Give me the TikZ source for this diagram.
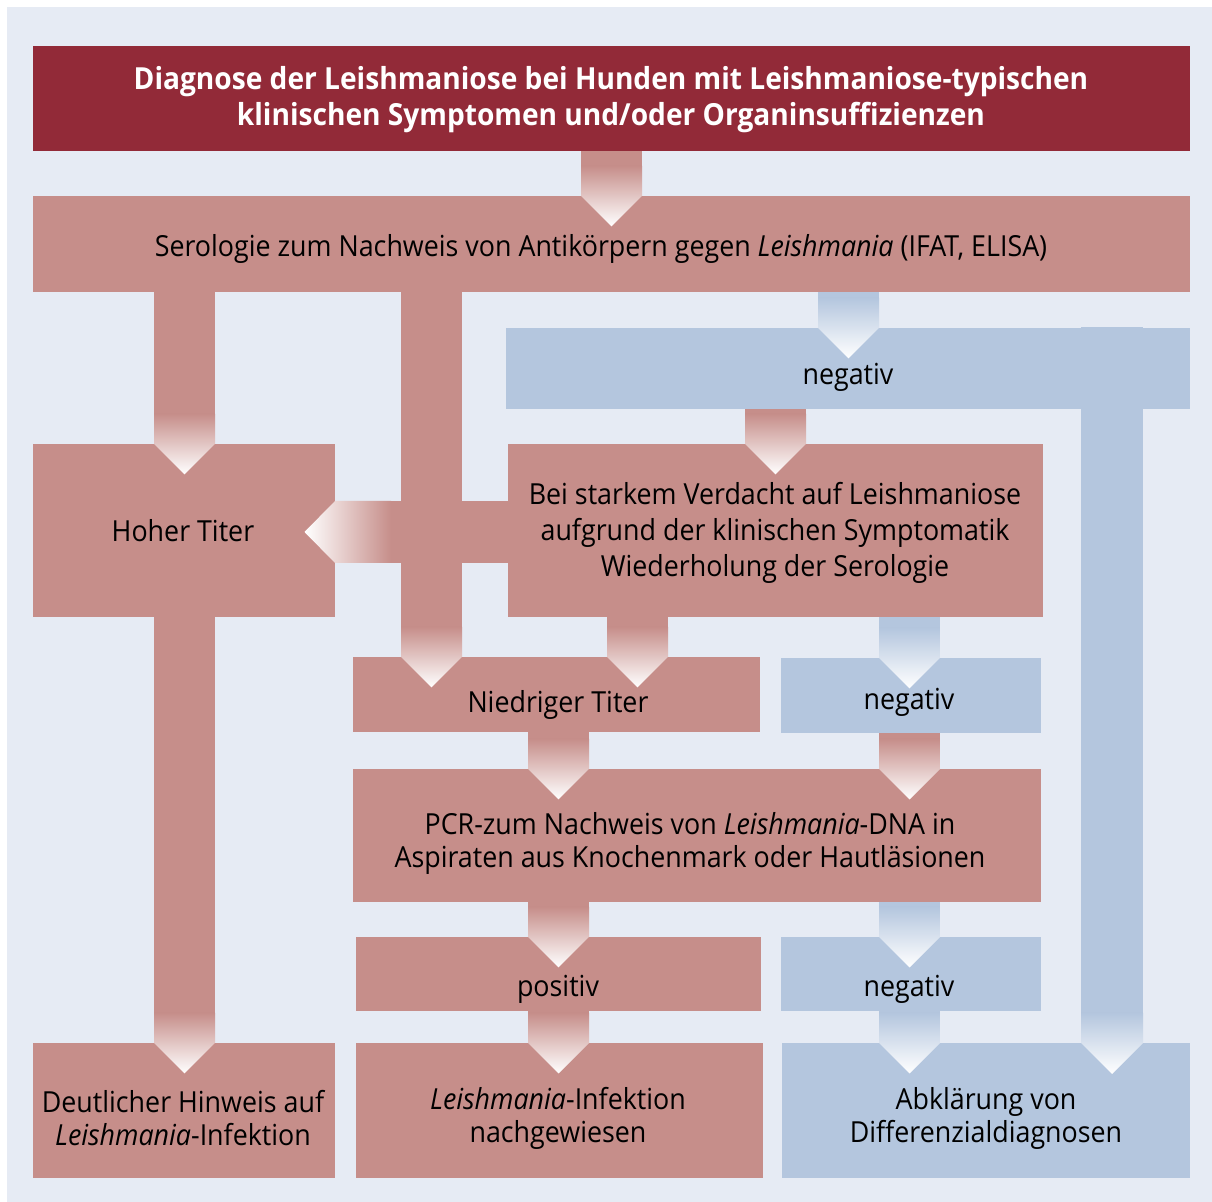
\documentclass[tikz,border=0pt]{standalone}
\usepackage{fontspec}
\setmainfont{Open Sans}[FakeStretch=0.925]
\usetikzlibrary{calc}
\definecolor{panelbg}{RGB}{230,235,244}
\definecolor{darkred}{RGB}{146,42,56}
\definecolor{rosa}{RGB}{198,142,138}
\definecolor{hellblau}{RGB}{180,198,222}
\tikzset{
    box/.style={inner sep=0pt, outer sep=0pt},
    titlebox/.style={box, fill=darkred},
    rosabox/.style={box, fill=rosa},
    blaubox/.style={box, fill=hellblau},
    txt/.style={align=center, inner sep=0pt, font=\fontsize{14.5}{16.5}\selectfont},
    widetxt/.style={txt, font=\fontsize{14.5}{18}\selectfont},
    titletxt/.style={txt, text=white, font=\fontsize{15.2}{18}\selectfont\bfseries}
}
% box from corners in pixels: name, style, x1, y1, x2, y2
\newcommand\flowbox[6]{%
  \node[#2, minimum width={(#5-#3)*0.5pt}, minimum height={(#6-#4)*0.5pt}] (#1) at ({(#3+#5)/2},{(#4+#6)/2}) {};}
% downward arrow: colour, x, from, to
\newcommand\downflow[4]{%
  \fill[#1] let \p1=(#2,0 |- #3.south), \p2=(#2,0 |- #4.north) in
    (\x1-15.25pt,\y1) rectangle (\x1+15.25pt,\y2+15pt);
  \shade[top color=#1, bottom color=white] let \p1=(#2,0 |- #3.south), \p2=(#2,0 |- #4.north) in
    (\x1-15.25pt,\y2+15pt) -- (\x1+15.25pt,\y2+15pt) -- (\x1+15.25pt,\y2)
    -- (\x1,\y2-15.25pt) -- (\x1-15.25pt,\y2) -- cycle;}
% leftward arrow: colour, y, from, to
\newcommand\leftflow[4]{%
  \fill[#1] let \p1=(#3.west |- 0,#2), \p2=(#4.east |- 0,#2) in
    (\x1,\y1-15.5pt) rectangle (\x2+28pt,\y1+15.5pt);
  \shade[left color=white, right color=#1] let \p1=(#3.west |- 0,#2), \p2=(#4.east |- 0,#2) in
    (\x2+28pt,\y1+15.5pt) -- (\x2,\y1+15.5pt) -- (\x2-15.25pt,\y1)
    -- (\x2,\y1-15.5pt) -- (\x2+28pt,\y1-15.5pt) -- cycle;}
\begin{document}
\begin{tikzpicture}[x=0.5pt,y=-0.5pt]
\useasboundingbox (0,0) rectangle (1212,1202);
\fill[panelbg] (7,7) rectangle (1212,1202);

% boxes
\flowbox{title}{titlebox}{33}{46}{1190}{151}
\flowbox{sero}{rosabox}{33}{196}{1190}{292}
\flowbox{neg1}{blaubox}{506}{328}{1190}{409}
\flowbox{hoher}{rosabox}{33}{444}{335}{617}
\flowbox{bei}{rosabox}{508}{444}{1043}{617}
\flowbox{niedrig}{rosabox}{353}{657}{760}{732}
\flowbox{neg2}{blaubox}{781}{658}{1041}{733}
\flowbox{pcr}{rosabox}{353}{769}{1041}{902}
\flowbox{pos}{rosabox}{356}{937}{761}{1011}
\flowbox{neg3}{blaubox}{781}{937}{1041}{1011}
\flowbox{deut}{rosabox}{33}{1043}{335}{1178}
\flowbox{nachw}{rosabox}{356}{1043}{763}{1178}
\flowbox{abkl}{blaubox}{782}{1043}{1190}{1178}

% arrows
\downflow{rosa}{611.5}{title}{sero}
\downflow{rosa}{184.5}{sero}{hoher}
\leftflow{rosa}{532}{bei}{hoher}
\downflow{rosa}{431.5}{sero}{niedrig}
\downflow{hellblau}{848.5}{sero}{neg1}
\downflow{rosa}{775.5}{neg1}{bei}
\downflow{rosa}{637.5}{bei}{niedrig}
\downflow{hellblau}{909.5}{bei}{neg2}
\downflow{rosa}{558.5}{niedrig}{pcr}
\downflow{rosa}{909.5}{neg2}{pcr}
\downflow{rosa}{558.5}{pcr}{pos}
\downflow{hellblau}{909.5}{pcr}{neg3}
\downflow{rosa}{558.5}{pos}{nachw}
\downflow{hellblau}{909.5}{neg3}{abkl}
\downflow{rosa}{184.5}{hoher}{deut}
\fill[hellblau] let \p1=(1112,0 |- neg1.north), \p2=(1112,0 |- abkl.north) in
  (\x1-15.5pt,\y1+0.5pt) rectangle (\x1+15.5pt,\y2+15pt);
\shade[top color=hellblau, bottom color=white] let \p1=(1112,0 |- neg1.north), \p2=(1112,0 |- abkl.north) in
  (\x1-15.5pt,\y2+15pt) -- (\x1+15.5pt,\y2+15pt) -- (\x1+15.5pt,\y2)
  -- (\x1,\y2-15.5pt) -- (\x1-15.5pt,\y2) -- cycle;

% texts
\node[titletxt] (title-t) at (611,100) {Diagnose der Leishmaniose bei Hunden mit Leishmaniose-typischen\\klinischen Symptomen und/oder Organinsuffizienzen};
\node[txt] (sero-t) at (601,249) {Serologie zum Nachweis von Antikörpern gegen \textit{Leishmania} (IFAT, ELISA)};
\node[txt] (neg1-t) at (848,377) {negativ};
\node[txt] (hoher-t) at (183,531) {Hoher Titer};
\node[widetxt] (bei-t) at (775,533) {Bei starkem Verdacht auf Leishmaniose\\aufgrund der klinischen Symptomatik\\Wiederholung der Serologie};
\node[txt] (niedrig-t) at (558,705) {Niedriger Titer};
\node[txt] (neg2-t) at (909,702) {negativ};
\node[txt] (pcr-t) at (690,843) {PCR-zum Nachweis von \textit{Leishmania}-DNA in\\Aspiraten aus Knochenmark oder Hautläsionen};
\node[txt] (pos-t) at (558,989) {positiv};
\node[txt] (neg3-t) at (909,989) {negativ};
\node[txt] (deut-t) at (183,1118) {Deutlicher Hinweis auf\\\textit{Leishmania}-Infektion};
\node[txt] (nachw-t) at (558,1118) {\textit{Leishmania}-Infektion\\nachgewiesen};
\node[txt] (abkl-t) at (986,1118) {Abklärung von\\Differenzialdiagnosen};
\end{tikzpicture}
\end{document}
